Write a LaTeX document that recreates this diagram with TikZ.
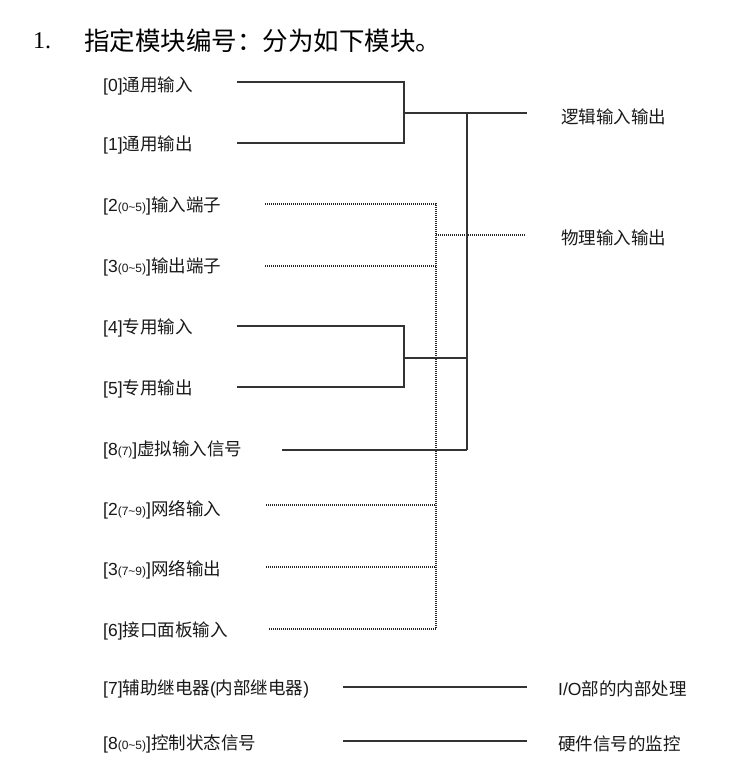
\documentclass[tikz,border=0pt]{standalone}
\usepackage{fontspec}
\setmainfont{Noto Sans CJK SC}
\newfontfamily\lat{Liberation Sans}
\newfontfamily\serifl{Liberation Serif}
\newcommand\smn[1]{{\lat\fontsize{12}{14}\selectfont #1}}
\newcommand\lt[1]{{\lat #1}}
\begin{document}
\begin{tikzpicture}[x=1pt,y=-1pt,
  lab/.style={anchor=west, inner sep=0pt, text=black!90, font=\fontsize{17.5}{20}\selectfont},
  solidln/.style={line width=1.1pt, draw=black!80},
  dotln/.style={line width=1.1pt, draw=black!85, dash pattern=on 1pt off 1pt}]
\useasboundingbox[fill=white] (0,0) rectangle (734,768);

% title
\node[anchor=west, inner sep=0pt, font=\serifl\fontsize{24}{28}\selectfont] (num) at (33,41) {1.};
\node[anchor=west, inner sep=0pt, font=\fontsize{25.5}{30}\selectfont] (title) at (84,41) {指定模块编号：分为如下模块。};

% left labels
\node[lab] (l0)  at (103,86)  {\lt{[0]}通用输入};
\node[lab] (l1)  at (103,145) {\lt{[1]}通用输出};
\node[lab] (l2)  at (103,206) {\lt{[2}\smn{(0\textasciitilde5)}\lt{]}输入端子};
\node[lab] (l3)  at (103,267) {\lt{[3}\smn{(0\textasciitilde5)}\lt{]}输出端子};
\node[lab] (l4)  at (103,328) {\lt{[4]}专用输入};
\node[lab] (l5)  at (103,389) {\lt{[5]}专用输出};
\node[lab] (l87) at (103,450) {\lt{[8}\smn{(7)}\lt{]}虚拟输入信号};
\node[lab] (l27) at (103,510) {\lt{[2}\smn{(7\textasciitilde9)}\lt{]}网络输入};
\node[lab] (l37) at (103,570) {\lt{[3}\smn{(7\textasciitilde9)}\lt{]}网络输出};
\node[lab] (l6)  at (103,631) {\lt{[6]}接口面板输入};
\node[lab] (l7)  at (103,689) {\lt{[7]}辅助继电器\lt{(}内部继电器\lt{)}};
\node[lab] (l80) at (103,744) {\lt{[8}\smn{(0\textasciitilde5)}\lt{]}控制状态信号};

% right labels
\node[lab] (logic) at (561,117) {逻辑输入输出};
\node[lab] (phys)  at (561,238) {物理输入输出};
\node[lab] (io)    at (558,689) {\lt{I/O}部的内部处理};
\node[lab] (hw)    at (558,744) {硬件信号的监控};

% coordinates
\coordinate (s0)  at (237,82);
\coordinate (s1)  at (237,143);
\coordinate (j01) at (404,113);
\coordinate (m0)  at (467,113);
\coordinate (elog) at (527,113);
\coordinate (s4)  at (237,326);
\coordinate (s5)  at (237,387);
\coordinate (j45) at (404,358);
\coordinate (m45) at (467,358);
\coordinate (s87) at (282,450);
\coordinate (m8)  at (467,450);

\coordinate (d2)  at (265,204);
\coordinate (d3)  at (265,266);
\coordinate (d27) at (266,505);
\coordinate (d37) at (266,567);
\coordinate (d6)  at (268,629);
\coordinate (v2)  at (436,204);
\coordinate (v6)  at (436,629);
\coordinate (vp)  at (436,235);
\coordinate (ephys) at (525,235);

\coordinate (s7)  at (343,687);
\coordinate (e7)  at (527,687);
\coordinate (s80) at (343,741);
\coordinate (e80) at (527,741);

% dotted connectors
\draw[dotln] (d2) -- (v2) -- (v6) -- (d6);
\draw[dotln] (d3) -- (d3 -| v2);
\draw[dotln] (d27) -- (d27 -| v2);
\draw[dotln] (d37) -- (d37 -| v2);
\draw[dotln] (vp) -- (ephys);

% solid connectors
\draw[solidln] (s0) -| (j01) |- (s1);
\draw[solidln] (j01) -- (elog);
\draw[solidln] (m0) -- (m8);
\draw[solidln] (s4) -| (j45) |- (s5);
\draw[solidln] (j45) -- (m45);
\draw[solidln] (s87) -- (m8);
\draw[solidln] (s7) -- (e7);
\draw[solidln] (s80) -- (e80);
\end{tikzpicture}
\end{document}
